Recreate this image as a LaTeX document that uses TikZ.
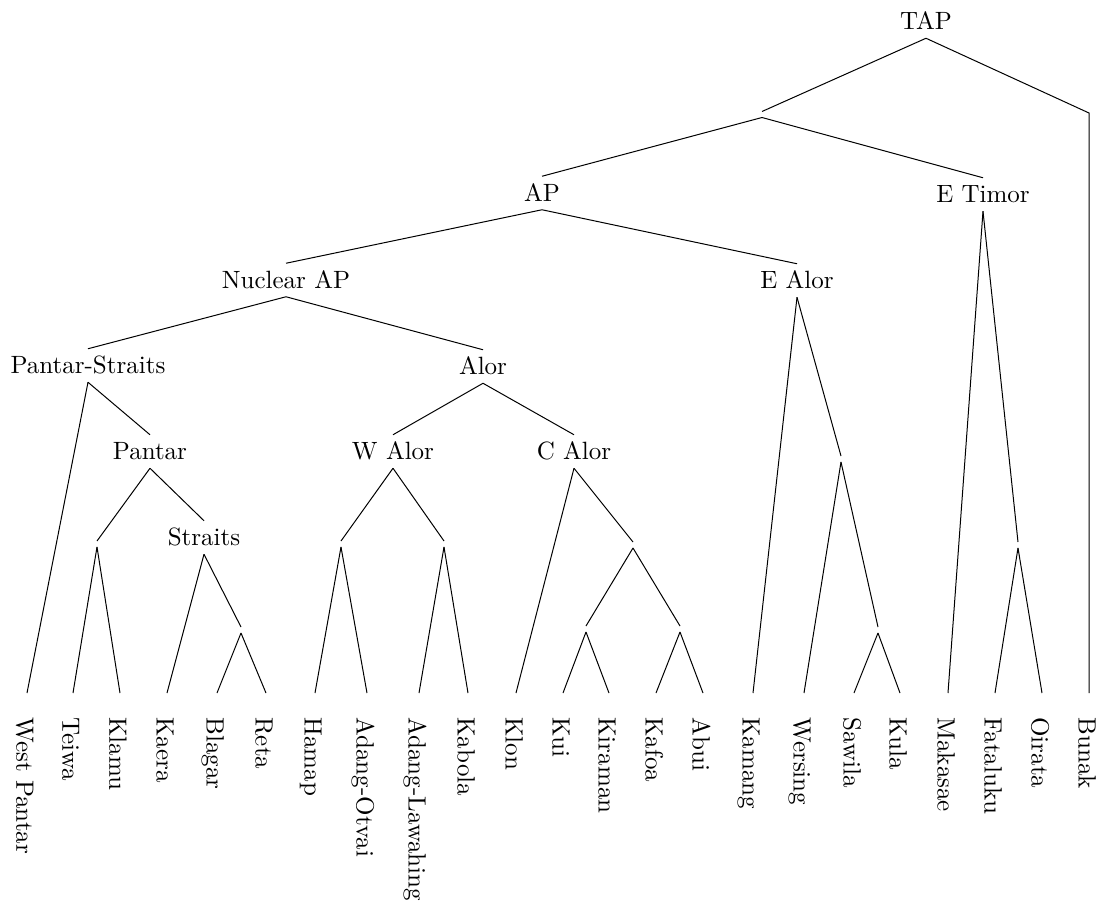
\documentclass[tikz,border=0pt]{standalone}
\begin{document}
\begin{tikzpicture}[x=0.4pt,y=-0.4pt,
  lab/.style={text height=6.4pt, text depth=0pt, inner xsep=2pt, inner ysep=3.3pt},
  emp/.style={inner sep=0pt, minimum height=2pt, minimum width=0pt},
  leaf/.style={rotate=-90, anchor=west, text height=8.4pt, text depth=0pt, inner xsep=9.6pt, inner ysep=0pt},
  br/.style={draw=black, line width=0.4pt}]
\useasboundingbox (0,0) rectangle (1102,901);
% internal labelled nodes
\node[lab] (tap) at (926,21.5) {TAP};
\node[lab] (ap) at (542,193) {AP};
\node[lab] (etimor) at (983,194.5) {E Timor};
\node[lab] (nap) at (286,280) {Nuclear AP};
\node[lab] (ealor) at (797,280.5) {E Alor};
\node[lab] (ps) at (88,365.5) {Pantar-Straits};
\node[lab] (alor) at (483,366.5) {Alor};
\node[lab] (pantar) at (150,451.5) {Pantar};
\node[lab] (walor) at (393,451.5) {W Alor};
\node[lab] (calor) at (574,451.5) {C Alor};
\node[lab] (straits) at (204,537.5) {Straits};
% empty nodes
\node[emp] (e0) at (762,114.5) {};
\coordinate (b0) at (1089,113);
\node[emp] (p1) at (97,544) {};
\node[emp] (s1) at (241,630) {};
\node[emp] (w1) at (341,544) {};
\node[emp] (w2) at (444,544) {};
\node[emp] (c1) at (633,545) {};
\node[emp] (c2) at (586,629) {};
\node[emp] (c3) at (680,629) {};
\node[emp] (ea1) at (841,459) {};
\node[emp] (ea2) at (878,630) {};
\node[emp] (et1) at (1018,545) {};
% leaves
\node[leaf] (l1) at (27,693) {West Pantar};
\node[leaf] (l2) at (73,693) {Teiwa};
\node[leaf] (l3) at (120,693) {Klamu};
\node[leaf] (l4) at (167,693) {Kaera};
\node[leaf] (l5) at (217,693) {Blagar};
\node[leaf] (l6) at (266,693) {Reta};
\node[leaf] (l7) at (315,693) {Hamap};
\node[leaf] (l8) at (367,693) {Adang-Otvai};
\node[leaf] (l9) at (419,693) {Adang-Lawahing};
\node[leaf] (l10) at (468,693) {Kabola};
\node[leaf] (l11) at (516,693) {Klon};
\node[leaf] (l12) at (563,693) {Kui};
\node[leaf] (l13) at (609,693) {Kiraman};
\node[leaf] (l14) at (656,693) {Kafoa};
\node[leaf] (l15) at (703,693) {Abui};
\node[leaf] (l16) at (753,693) {Kamang};
\node[leaf] (l17) at (804,693) {Wersing};
\node[leaf] (l18) at (854,693) {Sawila};
\node[leaf] (l19) at (900,693) {Kula};
\node[leaf] (l20) at (948,693) {Makasae};
\node[leaf] (l21) at (995,693) {Fataluku};
\node[leaf] (l22) at (1042,693) {Oirata};
\node[leaf] (l23) at (1089,693) {Bunak};
% branches
\draw[br] (tap.south) -- (e0.north);
\draw[br] (tap.south) -- (b0) -- (l23.west);
\draw[br] (e0.south) -- (ap.north);
\draw[br] (e0.south) -- (etimor.north);
\draw[br] (ap.south) -- (nap.north);
\draw[br] (ap.south) -- (ealor.north);
\draw[br] (nap.south) -- (ps.north);
\draw[br] (nap.south) -- (alor.north);
\draw[br] (ps.south) -- (l1.west);
\draw[br] (ps.south) -- (pantar.north);
\draw[br] (pantar.south) -- (p1.north);
\draw[br] (pantar.south) -- (straits.north);
\draw[br] (p1.south) -- (l2.west);
\draw[br] (p1.south) -- (l3.west);
\draw[br] (straits.south) -- (l4.west);
\draw[br] (straits.south) -- (s1.north);
\draw[br] (s1.south) -- (l5.west);
\draw[br] (s1.south) -- (l6.west);
\draw[br] (alor.south) -- (walor.north);
\draw[br] (alor.south) -- (calor.north);
\draw[br] (walor.south) -- (w1.north);
\draw[br] (walor.south) -- (w2.north);
\draw[br] (w1.south) -- (l7.west);
\draw[br] (w1.south) -- (l8.west);
\draw[br] (w2.south) -- (l9.west);
\draw[br] (w2.south) -- (l10.west);
\draw[br] (calor.south) -- (l11.west);
\draw[br] (calor.south) -- (c1.north);
\draw[br] (c1.south) -- (c2.north);
\draw[br] (c1.south) -- (c3.north);
\draw[br] (c2.south) -- (l12.west);
\draw[br] (c2.south) -- (l13.west);
\draw[br] (c3.south) -- (l14.west);
\draw[br] (c3.south) -- (l15.west);
\draw[br] (ealor.south) -- (l16.west);
\draw[br] (ealor.south) -- (ea1.north);
\draw[br] (ea1.south) -- (l17.west);
\draw[br] (ea1.south) -- (ea2.north);
\draw[br] (ea2.south) -- (l18.west);
\draw[br] (ea2.south) -- (l19.west);
\draw[br] (etimor.south) -- (l20.west);
\draw[br] (etimor.south) -- (et1.north);
\draw[br] (et1.south) -- (l21.west);
\draw[br] (et1.south) -- (l22.west);
\end{tikzpicture}
\end{document}
